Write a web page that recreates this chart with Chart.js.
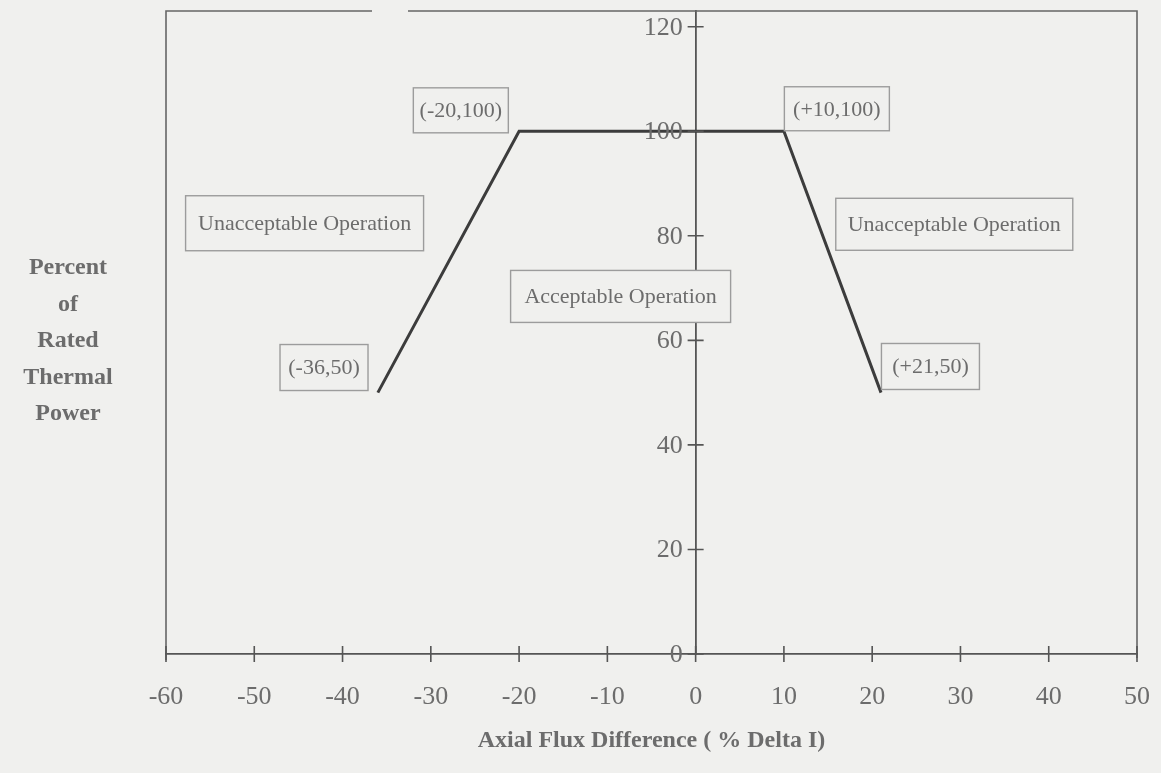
<!DOCTYPE html>
<html>
<head>
<meta charset="utf-8">
<script src="https://cdn.jsdelivr.net/npm/chart.js@4"></script>
<style>
  html, body { margin: 0; padding: 0; background: #f0f0ee; }
  #wrap { width: 1161px; height: 773px; }
</style>
</head>
<body>
<div id="wrap"><canvas id="c" width="1161" height="773"></canvas></div>
<script>
// ---- data ----
const limitX = [-36, -20, 10, 21];          // Axial flux difference (% Delta I)
const limitY = [50, 100, 100, 50];          // Percent of rated thermal power
const xTicks = [-60, -50, -40, -30, -20, -10, 0, 10, 20, 30, 40, 50];
const yTicks = [0, 20, 40, 60, 80, 100, 120];
const noteTexts = ['Unacceptable Operation', 'Acceptable Operation', 'Unacceptable Operation',
                   '(-36,50)', '(+21,50)', '(-20,100)', '(+10,100)'];
const noteX = [-44.3, -8.5, 29.3, -42.1, 26.6, -26.6, 16.0];
const noteY = [82.4, 68.4, 82.2, 54.8, 55.0, 104.0, 104.3];
const yTitleLines = ['Percent', 'of', 'Rated', 'Thermal', 'Power'];
const xTitle = 'Axial Flux Difference ( % Delta I)';

const TXT = '#6c6c6c';
const SERIF = '"Liberation Serif", "DejaVu Serif", serif';
const noteSizes = [[238, 55], [220, 52], [237, 52], [88, 46], [98, 46], [95, 45], [105, 44]];

const noPad = s => { s.paddingTop = 0; s.paddingBottom = 0; s.paddingLeft = 0; s.paddingRight = 0; };

const deco = {
  id: 'deco',
  beforeDraw(chart) {
    const c = chart.ctx;
    c.save();
    c.fillStyle = '#f0f0ee';
    c.fillRect(0, 0, chart.width, chart.height);
    c.restore();
  },
  afterDatasetsDraw(chart) {
    const c = chart.ctx, a = chart.chartArea;
    const xs = chart.scales.x, ys = chart.scales.y;
    c.save();
    // frame
    c.strokeStyle = '#666';
    c.lineWidth = 1.6;
    c.beginPath();
    c.moveTo(a.left, a.bottom + 6); c.lineTo(a.left, a.top);
    c.lineTo(372, a.top);
    c.moveTo(408, a.top); c.lineTo(a.right, a.top);
    c.lineTo(a.right, a.bottom + 4);
    c.stroke();
    // tick crosses
    c.strokeStyle = '#555';
    c.lineWidth = 1.6;
    c.beginPath();
    const x0 = xs.getPixelForValue(0), y0 = ys.getPixelForValue(0);
    xTicks.forEach(v => {
      const px = xs.getPixelForValue(v);
      c.moveTo(px, y0 - 8); c.lineTo(px, y0 + 8);
    });
    yTicks.forEach(v => {
      const py = ys.getPixelForValue(v);
      c.moveTo(x0 - 8, py); c.lineTo(x0 + 8, py);
    });
    c.stroke();
    // y tick labels, placed by the y scale
    c.font = '26px ' + SERIF;
    c.fillStyle = TXT;
    c.textAlign = 'right';
    c.textBaseline = 'middle';
    yTicks.forEach(v => c.fillText(String(v), x0 - 13, ys.getPixelForValue(v) + 1));
    // note boxes
    c.font = '22px ' + SERIF;
    c.textAlign = 'center';
    noteTexts.forEach((t, i) => {
      const cx = xs.getPixelForValue(noteX[i]), cy = ys.getPixelForValue(noteY[i]);
      const [w, h] = noteSizes[i];
      c.fillStyle = '#f0f0ee';
      c.fillRect(cx - w / 2, cy - h / 2, w, h);
      c.strokeStyle = '#9c9c9c';
      c.lineWidth = 1.4;
      c.strokeRect(cx - w / 2, cy - h / 2, w, h);
      c.fillStyle = TXT;
      c.fillText(t, cx, cy + 1);
    });
    // y title
    c.font = 'bold 24px ' + SERIF;
    c.fillStyle = TXT;
    yTitleLines.forEach((t, i) => c.fillText(t, 68, 268 + i * 36.5));
    c.restore();
  }
};

new Chart(document.getElementById('c'), {
  type: 'scatter',
  data: {
    datasets: [{
      data: limitX.map((x, i) => ({ x, y: limitY[i] })),
      showLine: true,
      borderColor: '#3c3c3c',
      borderWidth: 3,
      pointRadius: 0,
      tension: 0
    }]
  },
  options: {
    responsive: false,
    animation: false,
    devicePixelRatio: 1,
    layout: { padding: { left: 166, right: 24, top: 11, bottom: 0 } },
    plugins: { legend: { display: false }, tooltip: { enabled: false } },
    scales: {
      x: {
        type: 'linear', min: -60, max: 50,
        afterBuildTicks: s => { s.ticks = xTicks.map(v => ({ value: v })); },
        afterFit: s => { s.height = 119; noPad(s); },
        grid: { display: false, drawTicks: false },
        border: { display: true, color: '#555', width: 1.8 },
        ticks: { font: { family: SERIF, size: 26 }, color: TXT, padding: 28, maxRotation: 0 },
        title: { display: true, text: xTitle, color: TXT,
                 font: { family: SERIF, size: 24, weight: 'bold' }, padding: { top: 4, bottom: 18 } }
      },
      y: {
        type: 'linear', min: 0, max: 123,
        position: { x: 0 },
        afterBuildTicks: s => { s.ticks = yTicks.map(v => ({ value: v })); },
        afterFit: noPad,
        grid: { display: false, drawTicks: false },
        border: { display: true, color: '#555', width: 1.8 },
        ticks: { display: false }
      }
    }
  },
  plugins: [deco]
});
</script>
</body>
</html>
